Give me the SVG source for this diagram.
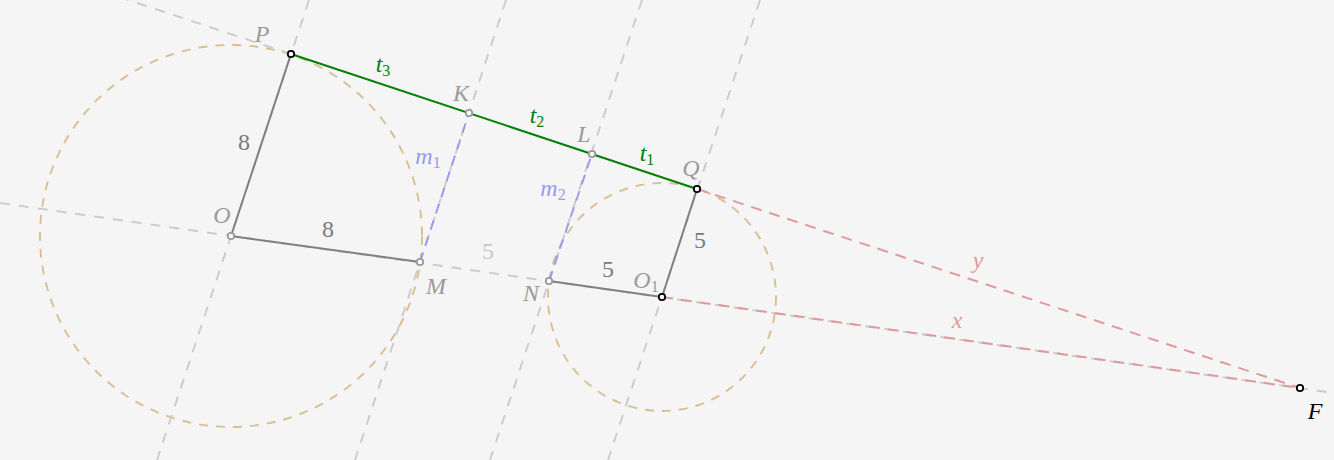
<svg xmlns="http://www.w3.org/2000/svg" width="1334" height="460" viewBox="0 0 1334 460">
<style>
text{font-family:"Liberation Serif","DejaVu Serif",serif;font-size:24px;text-anchor:middle}
.it{font-style:italic}
.sub{font-size:16px;font-style:normal}
.lg{fill:#9a9a9a}
.dg{fill:#7a7a7a}
.aux{stroke:#cbcbcb;stroke-width:1.9;stroke-dasharray:10 9;fill:none}
.circ{stroke:#d9bf92;stroke-width:1.9;stroke-dasharray:9 8;fill:none}
.seg{stroke:#808080;stroke-width:2;fill:none}
.tan{stroke:#008000;stroke-width:2;fill:none}
.med{stroke:#9999ee;stroke-width:1.9;stroke-dasharray:10 7;fill:none}
.red{stroke:#e09a9a;stroke-width:2;stroke-dasharray:11 8;fill:none}
.pb{fill:#fff;stroke:#000;stroke-width:1.8}
.pg{fill:#fff;stroke:#999;stroke-width:1.8}
</style>
<rect width="1334" height="460" fill="#f5f5f5"/>
<g id="connectors">
<circle class="circ" cx="231" cy="236" r="191"/>
<circle class="circ" cx="662" cy="297" r="114"/>
<line class="aux" x1="0" y1="203" x2="1334" y2="393"/>
<line class="aux" x1="291" y1="54" x2="98" y2="-10"/>
<line class="aux" x1="309" y1="0" x2="157" y2="460"/>
<line class="aux" x1="506" y1="0" x2="355" y2="460"/>
<line class="aux" x1="642" y1="0" x2="490" y2="460"/>
<line class="aux" x1="760" y1="0" x2="608" y2="460"/>
<line class="med" x1="420" y1="262" x2="469" y2="113"/>
<line class="med" x1="549" y1="281" x2="592" y2="154"/>
<line class="red" x1="697" y1="189" x2="1300" y2="388"/>
<line class="red" x1="662" y1="297" x2="1300" y2="388"/>
<line class="seg" x1="231" y1="236" x2="291" y2="54"/>
<line class="seg" x1="231" y1="236" x2="420" y2="262"/>
<line class="seg" x1="549" y1="281" x2="662" y2="297"/>
<line class="seg" x1="662" y1="297" x2="697" y2="189"/>
<line class="tan" x1="291" y1="54" x2="697" y2="189"/>
</g>
<g id="labels">
<text class="it" x="383" y="72" fill="#008000">t<tspan class="sub" dy="4">3</tspan></text>
<text class="it" x="537" y="123" fill="#008000">t<tspan class="sub" dy="4">2</tspan></text>
<text class="it" x="647" y="161" fill="#008000">t<tspan class="sub" dy="4">1</tspan></text>
<text class="it" x="428" y="164" fill="#9999ee">m<tspan class="sub" dy="4">1</tspan></text>
<text class="it" x="553" y="196" fill="#9999ee">m<tspan class="sub" dy="4">2</tspan></text>
<text class="dg" x="244" y="150">8</text>
<text class="dg" x="328" y="237">8</text>
<text x="488" y="259" fill="#c8c8c8">5</text>
<text class="dg" x="608" y="277">5</text>
<text class="dg" x="700" y="248">5</text>
<text class="it" x="978" y="268" fill="#e09a9a">y</text>
<text class="it" x="957" y="328" fill="#e09a9a">x</text>
</g>
<g id="node-P"><circle class="pb" cx="291" cy="54" r="3.2"/><text class="it lg" x="262" y="42">P</text></g>
<g id="node-K"><circle class="pg" cx="469" cy="113" r="3.2"/><text class="it lg" x="461" y="101">K</text></g>
<g id="node-L"><circle class="pg" cx="592" cy="154" r="3.2"/><text class="it lg" x="584" y="142">L</text></g>
<g id="node-Q"><circle class="pb" cx="697" cy="189" r="3.2"/><text class="it lg" x="691" y="176">Q</text></g>
<g id="node-O"><circle class="pg" cx="231" cy="236" r="3.2"/><text class="it lg" x="222" y="223">O</text></g>
<g id="node-M"><circle class="pg" cx="420" cy="262" r="3.2"/><text class="it lg" x="436" y="294">M</text></g>
<g id="node-N"><circle class="pg" cx="549" cy="281" r="3.2"/><text class="it lg" x="531" y="301">N</text></g>
<g id="node-O1"><circle class="pb" cx="662" cy="297" r="3.2"/><text class="it lg" x="646" y="288">O<tspan class="sub" dy="4">1</tspan></text></g>
<g id="node-F"><circle class="pb" cx="1300" cy="388" r="3.2"/><text class="it" x="1315" y="419" fill="#000">F</text></g>
</svg>
